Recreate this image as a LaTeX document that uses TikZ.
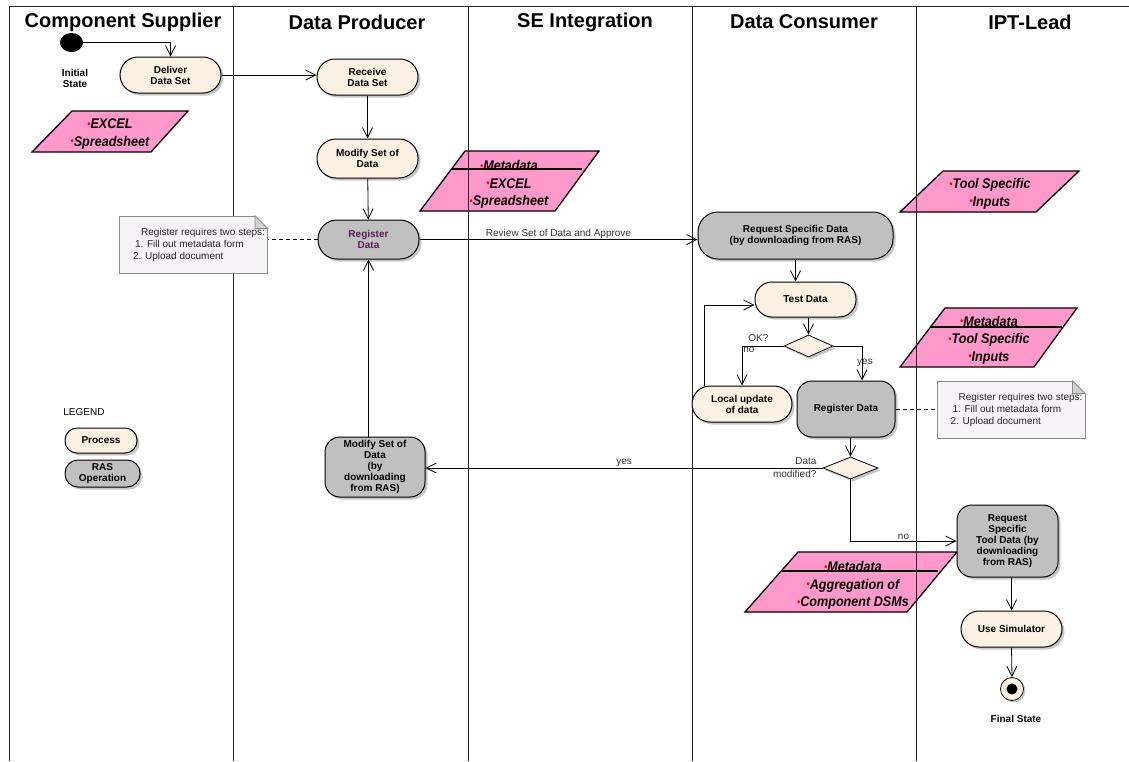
\documentclass[tikz,border=0pt]{standalone}
\usepackage{fontspec}
\setmainfont{Liberation Sans}
\newfontfamily\datafont{Liberation Sans}[FakeStretch=0.9]
\usetikzlibrary{positioning,shapes.geometric,shadows,arrows.meta}

\definecolor{procfill}{RGB}{251,241,227}
\definecolor{rasfill}{RGB}{192,192,192}
\definecolor{datafill}{RGB}{255,153,204}
\definecolor{notefill}{RGB}{247,244,247}
\definecolor{regtext}{RGB}{88,30,88}

\newcommand{\rdot}{\textcolor{red}{\raisebox{1.5pt}{\fontsize{10}{10}\selectfont\textbullet}}}

\tikzset{
  lane/.style={draw=black!85, line width=0.8pt},
  lanetitle/.style={font=\fontsize{20}{24}\selectfont\bfseries, inner sep=0pt},
  activity/.style={rectangle, draw, line width=1pt, rounded corners=17pt, inner sep=1pt, align=center,
    font=\fontsize{10}{11}\selectfont\bfseries,
    drop shadow={shadow xshift=2.5pt, shadow yshift=-2.5pt, opacity=1, fill=black!22}},
  proc/.style={activity, fill=procfill},
  ras/.style={activity, fill=rasfill},
  decision/.style={diamond, draw, line width=0.8pt, fill=procfill, inner sep=0pt,
    minimum width=49pt, minimum height=22pt,
    drop shadow={shadow xshift=2.5pt, shadow yshift=-2.5pt, opacity=1, fill=black!22}},
  flow/.style={draw, line width=0.8pt, -{Straight Barb[length=10pt, width=10pt]}},
  lbl/.style={font=\fontsize{10}{13}\selectfont, inner sep=1pt, text=black!80},
  notebox/.style={rectangle, draw=black!45, fill=notefill, line width=0.8pt, align=left,
    font=\fontsize{10}{12}\selectfont, text=black!85, inner sep=0pt, minimum width=148pt, minimum height=57pt},
  datashape/.style={fill=datafill, draw, line width=1.3pt, line join=miter},
  datatext/.style={font=\datafont\fontsize{14}{17.5}\selectfont\bfseries\itshape, align=center, inner sep=0pt}
}

\begin{document}
\begin{tikzpicture}[x=1pt, y=-1pt]
\useasboundingbox (0,0) rectangle (1129,761);

% Datos
\filldraw[datashape] (72,111) -- (188,111) -- (151,152) -- (32,152) -- cycle;
\filldraw[datashape] (465,151) -- (599,151) -- (555,211) -- (420,211) -- cycle;
\draw[line width=1.3pt] (452,169) -- (582,169);
\filldraw[datashape] (943,171) -- (1079,171) -- (1036,212) -- (900,212) -- cycle;
\filldraw[datashape] (945,308) -- (1077,308) -- (1034,367) -- (900,367) -- cycle;
\draw[line width=1.3pt] (930,327) -- (1062,327);
\filldraw[datashape] (798,552) -- (957,552) -- (907,612) -- (745,612) -- cycle;
\draw[line width=1.3pt] (782,571) -- (938,571);

\node[datatext] (data1) at (110,134) {\rdot EXCEL\\\rdot Spreadsheet};
\node[datatext] (data2) at (509,184.5) {\rdot Metadata\\\rdot EXCEL\\\rdot Spreadsheet};
\node[datatext] (data3) at (990,194) {\rdot Tool Specific\\\rdot Inputs};
\node[datatext] (data4) at (989,340) {\rdot Metadata\\\rdot Tool Specific\\\rdot Inputs};
\node[datatext] (data5) at (853,585.5) {\rdot Metadata\\\rdot Aggregation of\\\rdot Component DSMs};

% Carriles
\foreach \x in {9, 233, 468, 692, 916}
  \draw[lane] (\x,6) -- (\x,761);
\draw[lane] (9,6) -- (1129,6);
\foreach \x/\name [count=\i] in {123/Component Supplier, 357/Data Producer, 585/SE Integration, 804/Data Consumer, 1030/IPT-Lead}
  \node[lanetitle] (lane\i) at (\x,22) {\name};

% Notas
\node[notebox] (note1) at (193.5,244.5) {\hspace*{19pt}Register requires two steps:\\\hspace*{13pt}1. Fill out metadata form\\\hspace*{11pt}2. Upload document};
\node[notebox] (note2) at (1011,409.5) {\hspace*{19pt}Register requires two steps:\\\hspace*{13pt}1. Fill out metadata form\\\hspace*{11pt}2. Upload document};
\foreach \n in {note1, note2} {
  \filldraw[white, line width=1pt] ([xshift=-13pt]\n.north east) -- ([xshift=1pt, yshift=1pt]\n.north east) -- ([yshift=-13pt]\n.north east) -- cycle;
  \filldraw[draw=black!45, fill=black!18, line width=0.8pt] ([xshift=-13pt]\n.north east) -- ([yshift=-13pt]\n.north east) -- ([xshift=-13pt, yshift=-13pt]\n.north east) -- cycle;
}

% Inicio
\node[ellipse, fill=black, minimum width=23pt, minimum height=19pt, inner sep=0pt] (init) at (71.5,42.5) {};
\node[font=\fontsize{10}{11}\selectfont\bfseries, align=center, below=14pt of init, xshift=3.5pt] (initlbl) {Initial\\State};

% Actividades
\node[proc, minimum width=101pt, minimum height=36pt, rounded corners=18pt] (deliver) at (170.5,75) {Deliver\\Data Set};
\node[proc, minimum width=101pt, minimum height=36pt, rounded corners=18pt] (receive) at (367.5,77) {Receive\\Data Set};
\node[proc, minimum width=101pt, minimum height=39pt, rounded corners=19pt] (modify) at (367.5,158.5) {Modify Set of\\Data};
\node[ras, minimum width=101pt, minimum height=39pt, rounded corners=19pt, text=regtext] (register) at (368.5,239.5) {Register\\Data};
\node[ras, minimum width=195pt, minimum height=47pt, rounded corners=20pt] (request) at (795.5,235.5) {Request Specific Data\\(by downloading from RAS)};
\node[proc, minimum width=101pt, minimum height=35pt, rounded corners=17pt] (test) at (805.5,299.5) {Test Data};
\node[decision] (ok) at (808.5,346) {};
\node[proc, minimum width=100pt, minimum height=36pt, rounded corners=18pt] (local) at (742,404) {Local update\\of data};
\node[ras, minimum width=98pt, minimum height=56pt, rounded corners=15pt] (register2) at (846,409) {Register Data};
\node[decision, minimum width=55pt] (mod2) at (850.5,468) {};
\node[ras, minimum width=100pt, minimum height=60pt, rounded corners=15pt] (modras) at (375,467) {Modify Set of\\Data\\(by\\downloading\\from RAS)};
\node[ras, minimum width=101pt, minimum height=72pt, rounded corners=15pt] (reqtool) at (1007.5,541) {Request\\Specific\\Tool Data (by\\downloading\\from RAS)};
\node[proc, minimum width=101pt, minimum height=36pt, rounded corners=18pt] (sim) at (1011.5,629) {Use Simulator};

% Fin
\node[circle, draw, fill=procfill, line width=0.8pt, minimum size=23pt, inner sep=0pt,
  drop shadow={shadow xshift=2pt, shadow yshift=-2pt, opacity=1, fill=black!22},
  path picture={\fill[black] (path picture bounding box.center) circle (5.5pt);}] (final) at (1012,689) {};
\node[font=\fontsize{10}{11}\selectfont\bfseries, below=11pt of final, xshift=4pt] (finallbl) {Final State};

% Leyenda
\node[font=\fontsize{10}{11}\selectfont] (legend) at (84,412) {LEGEND};
\node[proc, minimum width=72pt, minimum height=25pt, rounded corners=12pt] (legproc) at (101,440.5) {Process};
\node[ras, minimum width=75pt, minimum height=27pt, rounded corners=13pt] (legras) at (102.5,473.5) {RAS\\Operation};

% Flujo
\draw[flow] (init.east) -| (deliver.north);
\draw[flow] (deliver.east) -- (deliver.east -| receive.west);
\draw[flow] (receive) -- (modify);
\draw[flow] (modify) -- (register);
\draw[flow] (modras.north -| register.south) -- (register.south);
\draw[flow] (register.east) -- node[lbl, midway, above] {Review Set of Data and Approve} (register.east -| request.west);
\draw[flow] (request.south) -- (request.south |- test.north);
\draw[flow] (ok.north |- test.south) -- (ok.north);
\node[lbl, above left=3pt and 14pt of ok.west] (oklbl) {OK?};
\draw[flow] (ok.west) -| node[lbl, pos=0.5, below right] {no} (local.north);
\draw[flow] (ok.east) -| node[lbl, pos=0.75, xshift=3pt] {yes} ([xshift=16pt]register2.north);
\draw[flow] ([xshift=13pt]local.north west) |- ([yshift=-5.5pt]test.west);
\draw[flow] (mod2.north |- register2.south) -- (mod2.north);
\node[lbl, align=right, left=5pt of mod2.west] (modlbl) {Data\\modified?};
\draw[flow] (mod2.west) -- node[lbl, midway, above] {yes} (mod2.west -| modras.east);
\draw[flow] (mod2.south) |- node[lbl, pos=0.75, above] {no} (reqtool.west);
\draw[flow] (sim.north |- reqtool.south) -- (sim.north);
\draw[flow] (sim.south) -- (final.north);

% Notas a actividades
\draw[line width=0.8pt, dash pattern=on 4pt off 3pt] (register.west) -- (register.west -| note1.east);
\draw[line width=0.8pt, dash pattern=on 4pt off 3pt] (register2.east) -- (register2.east -| note2.west);
\end{tikzpicture}
\end{document}
